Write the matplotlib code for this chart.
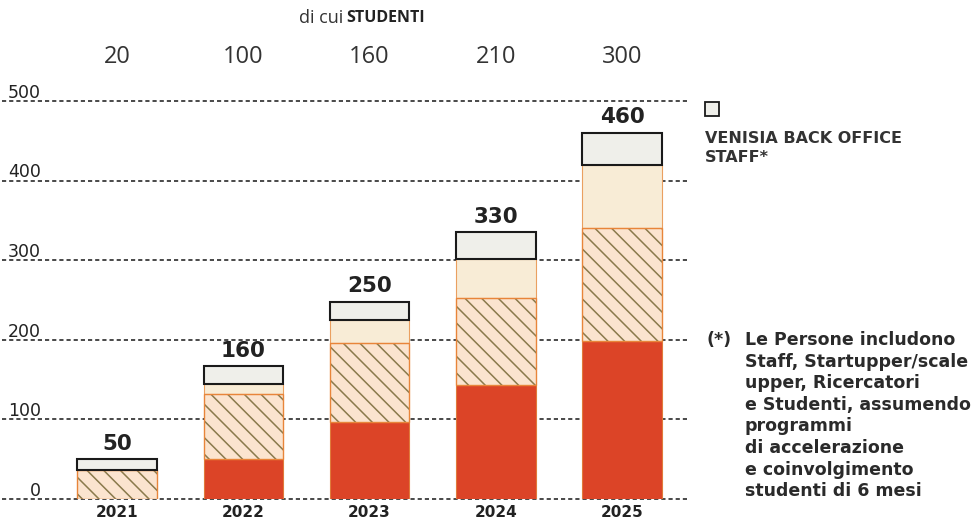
import numpy as np
import matplotlib.pyplot as plt
from matplotlib import transforms

plt.rcParams['font.family'] = ['DejaVu Sans']
plt.rcParams['hatch.linewidth'] = 1.1

# dati
anni = ['2021', '2022', '2023', '2024', '2025']
studenti = [20, 100, 160, 210, 300]
totali = [50, 160, 250, 330, 460]
rosso = [0, 50, 97, 143, 199]
tratteggio = [37, 82, 99, 110, 142]
chiaro = [0, 13, 29, 49, 78]
staff = [13, 22, 23, 33, 41]
yticks = [0, 100, 200, 300, 400, 500]

W, H = 973, 521
fig = plt.figure(figsize=(W / 100, H / 100), dpi=100)
ax = fig.add_axes([2 / W, 22 / H, 688 / W, 398 / H])

x = np.arange(len(anni))
w = 0.63
b1 = np.array(rosso)
b2 = b1 + np.array(tratteggio)
b3 = b2 + np.array(chiaro)

# griglia tratteggiata ed etichette sopra le linee
ypix = transforms.blended_transform_factory(transforms.IdentityTransform(), ax.transData)
for y in yticks:
    ax.axhline(y, color='#2a2a2a', lw=1.2, ls=(0, (2.5, 1.8)), clip_on=False, zorder=1)
    ax.text(41, y + 4, str(y), ha='right', va='baseline', fontsize=12.5,
            color='#222222', transform=ypix)

ax.bar(x, rosso, w, color='#dc4427', edgecolor='#e07a3a', lw=0.8, zorder=2)
ax.bar(x, tratteggio, w, bottom=b1, color='#fbe4cf', edgecolor='#8a7a4c',
       hatch='\\\\', lw=0, zorder=2)
ax.bar(x, tratteggio, w, bottom=b1, fill=False, edgecolor='#e8853a', lw=1.0, zorder=3)
ax.bar(x, chiaro, w, bottom=b2, color='#f8ecd6', edgecolor='#eaa060', lw=0.8, zorder=2)
ax.bar(x, staff, w, bottom=b3, color='#efefea', edgecolor='#1a1a1a', lw=1.5, zorder=3)

for i in range(len(anni)):
    ax.annotate(str(totali[i]), (x[i], b3[i] + staff[i]), xytext=(0, 4),
                textcoords='offset points', ha='center', va='bottom',
                fontsize=15.5, fontweight='bold', color='#222222')

trans = transforms.blended_transform_factory(ax.transData, fig.transFigure)
for i in range(len(anni)):
    ax.text(x[i], 1 - 57 / H, str(studenti[i]), ha='center', va='center',
            fontsize=17, color='#333333', family='Open Sans', transform=trans)

ax.set_xlim((2 - 117) / 126.3, (690 - 117) / 126.3)
ax.set_ylim(0, 500)
ax.set_xticks(x, anni, fontsize=11, fontweight='bold', color='#222222')
ax.tick_params(axis='x', length=0, pad=4)
ax.set_yticks([])
for s in ax.spines.values():
    s.set_visible(False)

fig.text(343 / W, 1 - 18 / H, 'di cui', ha='right', va='center', fontsize=13,
         color='#333333', family='Open Sans')
fig.text(346 / W, 1 - 18 / H, 'STUDENTI', ha='left', va='center', fontsize=11.5,
         fontweight='bold', color='#222222', family='Open Sans')

# legenda
fig.patches.append(plt.Rectangle((705 / W, 1 - 116 / H), 14 / W, 14 / H,
                                 transform=fig.transFigure, facecolor='#efefea',
                                 edgecolor='#1a1a1a', lw=1.3))
fig.text(705 / W, 1 - 148 / H, 'VENISIA BACK OFFICE\nSTAFF*', ha='left', va='center',
         fontsize=11.5, fontweight='bold', color='#333333', linespacing=1.4)

note = ['Le Persone includono', 'Staff, Startupper/scale', 'upper, Ricercatori',
        'e Studenti, assumendo', 'programmi', 'di accelerazione',
        'e coinvolgimento', 'studenti di 6 mesi']
fig.text(707 / W, 1 - 340 / H, '(*)', ha='left', va='center', fontsize=12.5,
         fontweight='bold', color='#2a2a2a')
for k, riga in enumerate(note):
    fig.text(745 / W, 1 - (340 + 21.6 * k) / H, riga, ha='left', va='center',
             fontsize=12.5, fontweight='bold', color='#2a2a2a')

fig.savefig('out.png', dpi=100)
